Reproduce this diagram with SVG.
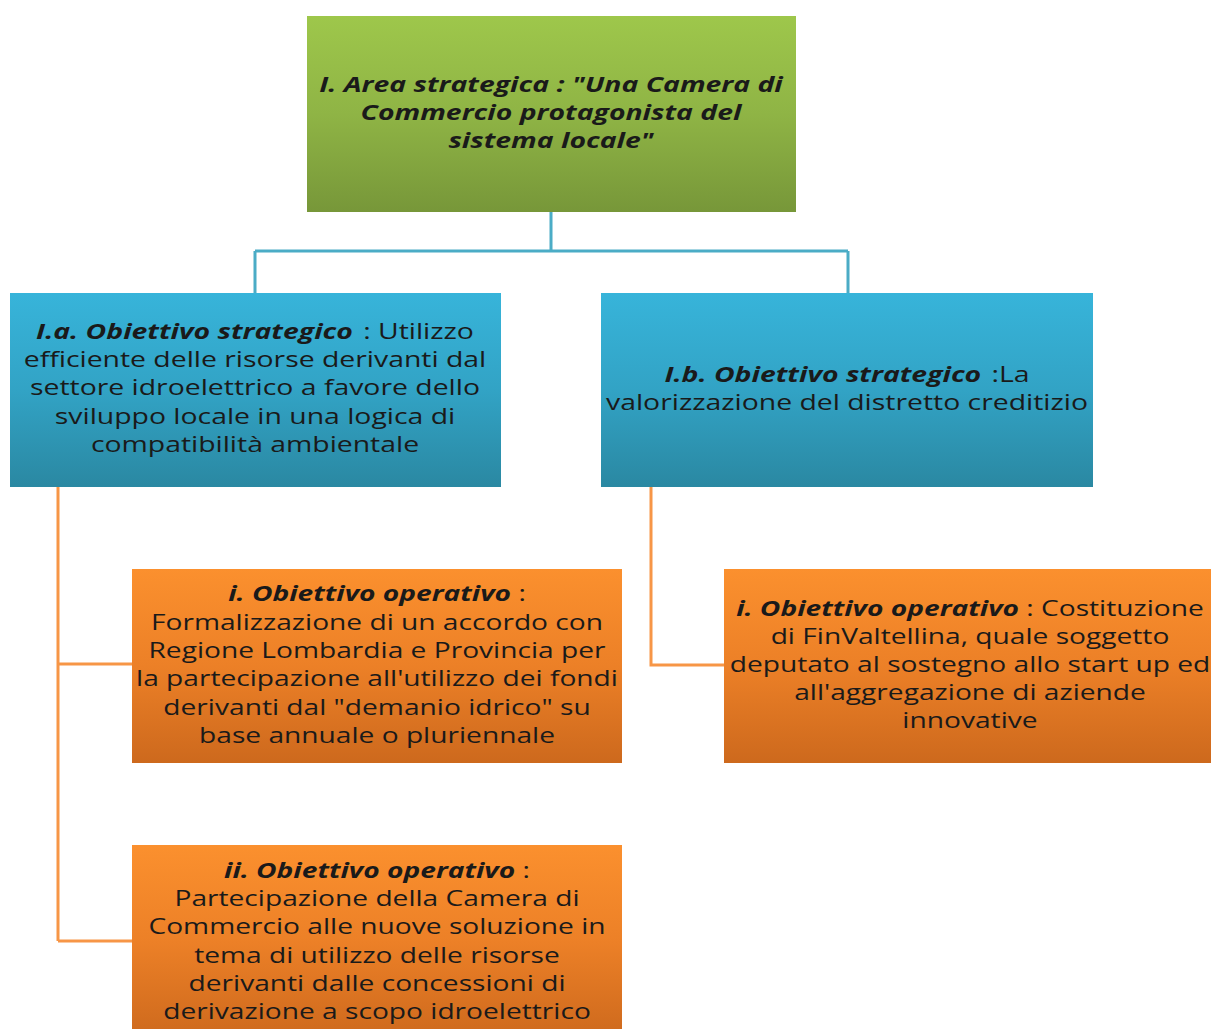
<svg xmlns="http://www.w3.org/2000/svg" width="1211" height="1029" viewBox="0 0 1211 1029">
<style>
.t{font-family:"Open Sans","Liberation Sans",sans-serif;font-size:22px;fill:#1a1a1a;text-anchor:middle}
.b{font-weight:bold;font-style:italic}
.cb{fill:none;stroke:#4bacc6;stroke-width:3}
.co{fill:none;stroke:#f79646;stroke-width:3}
</style>
<defs>
<linearGradient id="gG" x1="0" y1="0" x2="0" y2="1"><stop offset="0" stop-color="#9ec74b"/><stop offset="0.5" stop-color="#8fb445"/><stop offset="1" stop-color="#779739"/></linearGradient>
<linearGradient id="gB" x1="0" y1="0" x2="0" y2="1"><stop offset="0" stop-color="#37b4da"/><stop offset="0.5" stop-color="#32a3c5"/><stop offset="1" stop-color="#2a88a2"/></linearGradient>
<linearGradient id="gO" x1="0" y1="0" x2="0" y2="1"><stop offset="0" stop-color="#fb902e"/><stop offset="0.5" stop-color="#ec8027"/><stop offset="1" stop-color="#cd691d"/></linearGradient>
</defs>
<g id="connectors">
<path class="cb" d="M551,212 V251 M255,251 H848 M255,251 V293 M848,251 V293"/>
<path class="co" d="M58,487 V941 M58,664 H132 M58,941 H132 M651,487 V665 H724"/>
</g>
<g id="n-area">
<rect x="307" y="16" width="489" height="196" fill="url(#gG)"/>
<text class="t b" transform="translate(551,0) scale(1.29,1) translate(-551,0)"><tspan x="551" y="92">I. Area strategica : "Una Camera di</tspan><tspan x="551" y="120">Commercio protagonista del</tspan><tspan x="551" y="148">sistema locale"</tspan></text>
</g>
<g id="n-ia">
<rect x="10" y="293" width="491" height="194" fill="url(#gB)"/>
<text class="t" transform="translate(255,0) scale(1.29,1) translate(-255,0)"><tspan x="255" y="339"><tspan class="b">I.a. Obiettivo strategico</tspan><tspan dx="8">: Utilizzo</tspan></tspan><tspan x="255" y="367">efficiente delle risorse derivanti dal</tspan><tspan x="255" y="395">settore idroelettrico a favore dello</tspan><tspan x="255" y="424">sviluppo locale in una logica di</tspan><tspan x="255" y="452">compatibilità ambientale</tspan></text>
</g>
<g id="n-ib">
<rect x="601" y="293" width="492" height="194" fill="url(#gB)"/>
<text class="t" transform="translate(847,0) scale(1.29,1) translate(-847,0)"><tspan x="847" y="382"><tspan class="b">I.b. Obiettivo strategico</tspan><tspan dx="8">:La</tspan></tspan><tspan x="847" y="410">valorizzazione del distretto creditizio</tspan></text>
</g>
<g id="n-ia-i">
<rect x="132" y="569" width="490" height="194" fill="url(#gO)"/>
<text class="t" transform="translate(377,0) scale(1.28,1) translate(-377,0)"><tspan x="377" y="601"><tspan class="b">i. Obiettivo operativo</tspan> :</tspan><tspan x="377" y="630">Formalizzazione di un accordo con</tspan><tspan x="377" y="658">Regione Lombardia e Provincia per</tspan><tspan x="377" y="686">la partecipazione all'utilizzo dei fondi</tspan><tspan x="377" y="715">derivanti dal "demanio idrico" su</tspan><tspan x="377" y="743">base annuale o pluriennale</tspan></text>
</g>
<g id="n-ia-ii">
<rect x="132" y="845" width="490" height="194" fill="url(#gO)"/>
<text class="t" transform="translate(377,0) scale(1.28,1) translate(-377,0)"><tspan x="377" y="878"><tspan class="b">ii. Obiettivo operativo</tspan> :</tspan><tspan x="377" y="906">Partecipazione della Camera di</tspan><tspan x="377" y="934">Commercio alle nuove soluzione in</tspan><tspan x="377" y="963">tema di utilizzo delle risorse</tspan><tspan x="377" y="991">derivanti dalle concessioni di</tspan><tspan x="377" y="1019">derivazione a scopo idroelettrico</tspan></text>
</g>
<g id="n-ib-i">
<rect x="724" y="569" width="492" height="194" fill="url(#gO)"/>
<text class="t" transform="translate(970,0) scale(1.28,1) translate(-970,0)"><tspan x="970" y="616"><tspan class="b">i. Obiettivo operativo</tspan> : Costituzione</tspan><tspan x="970" y="644">di FinValtellina, quale soggetto</tspan><tspan x="970" y="672">deputato al sostegno allo start up ed</tspan><tspan x="970" y="700">all'aggregazione di aziende</tspan><tspan x="970" y="728">innovative</tspan></text>
</g>
</svg>
